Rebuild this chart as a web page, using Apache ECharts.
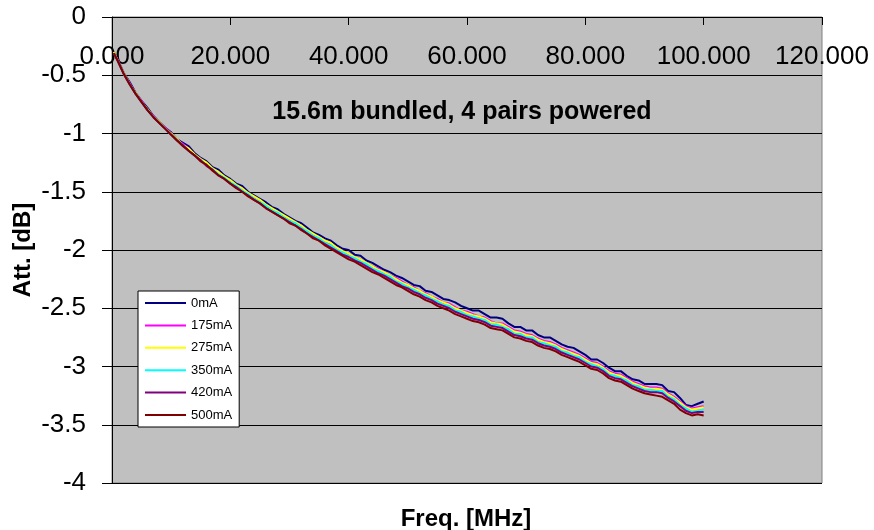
<!DOCTYPE html>
<html>
<head>
<meta charset="utf-8">
<script src="https://cdn.jsdelivr.net/npm/echarts@6/dist/echarts.min.js"></script>
<style>
  html, body { margin: 0; padding: 0; background: #ffffff; }
  #chart { width: 874px; height: 530px; }
</style>
</head>
<body>
<div id="chart"></div>
<script>
// Frequency sweep points [MHz]
const freq = [0.3, 1, 2, 3, 4, 5, 6, 7, 8, 9, 10, 11, 12, 13, 14, 15, 16, 17, 18, 19, 20,
  21, 22, 23, 24, 25, 26, 27, 28, 29, 30, 31, 32, 33, 34, 35, 36, 37, 38, 39, 40,
  41, 42, 43, 44, 45, 46, 47, 48, 49, 50, 51, 52, 53, 54, 55, 56, 57, 58, 59, 60,
  61, 62, 63, 64, 65, 66, 67, 68, 69, 70, 71, 72, 73, 74, 75, 76, 77, 78, 79, 80,
  81, 82, 83, 84, 85, 86, 87, 88, 89, 90, 91, 92, 93, 94, 95, 96, 97, 98, 99, 100];

// Attenuation [dB] per powering current
const att0mA = [-0.30, -0.37, -0.48, -0.56, -0.65, -0.72, -0.78, -0.85, -0.90, -0.95, -0.99,
  -1.05, -1.08, -1.11, -1.17, -1.21, -1.24, -1.29, -1.31, -1.36, -1.39,
  -1.43, -1.45, -1.50, -1.53, -1.56, -1.59, -1.63, -1.65, -1.69, -1.72,
  -1.75, -1.77, -1.81, -1.85, -1.87, -1.90, -1.92, -1.96, -1.99, -2.00,
  -2.04, -2.05, -2.09, -2.11, -2.14, -2.17, -2.19, -2.22, -2.24, -2.27,
  -2.30, -2.31, -2.35, -2.36, -2.39, -2.42, -2.43, -2.45, -2.48, -2.50,
  -2.52, -2.52, -2.55, -2.58, -2.58, -2.59, -2.63, -2.66, -2.66, -2.69,
  -2.69, -2.73, -2.75, -2.75, -2.78, -2.81, -2.83, -2.84, -2.87, -2.90,
  -2.94, -2.94, -2.97, -3.01, -3.04, -3.04, -3.08, -3.11, -3.12, -3.15,
  -3.15, -3.15, -3.16, -3.21, -3.22, -3.27, -3.33, -3.34, -3.32, -3.30];

const att175mA = [-0.31, -0.37, -0.49, -0.57, -0.66, -0.72, -0.80, -0.85, -0.91, -0.95, -1.00,
  -1.06, -1.09, -1.13, -1.19, -1.22, -1.26, -1.31, -1.33, -1.38, -1.41,
  -1.45, -1.47, -1.52, -1.55, -1.58, -1.61, -1.65, -1.67, -1.71, -1.74,
  -1.76, -1.79, -1.83, -1.87, -1.89, -1.92, -1.95, -1.98, -2.01, -2.03,
  -2.06, -2.08, -2.11, -2.14, -2.16, -2.19, -2.22, -2.24, -2.27, -2.30,
  -2.32, -2.35, -2.37, -2.40, -2.42, -2.45, -2.46, -2.49, -2.52, -2.53,
  -2.55, -2.57, -2.58, -2.61, -2.63, -2.63, -2.66, -2.69, -2.70, -2.72,
  -2.73, -2.76, -2.78, -2.79, -2.81, -2.84, -2.86, -2.88, -2.90, -2.93,
  -2.96, -2.97, -3.00, -3.04, -3.06, -3.07, -3.10, -3.13, -3.15, -3.17,
  -3.18, -3.18, -3.19, -3.23, -3.26, -3.30, -3.34, -3.36, -3.35, -3.34];

const att275mA = [-0.30, -0.38, -0.48, -0.58, -0.65, -0.73, -0.79, -0.86, -0.90, -0.96, -1.00,
  -1.05, -1.10, -1.13, -1.18, -1.22, -1.25, -1.30, -1.33, -1.37, -1.40,
  -1.44, -1.47, -1.51, -1.54, -1.57, -1.61, -1.64, -1.67, -1.70, -1.73,
  -1.76, -1.79, -1.83, -1.86, -1.89, -1.92, -1.94, -1.98, -2.01, -2.03,
  -2.06, -2.08, -2.11, -2.14, -2.17, -2.19, -2.22, -2.25, -2.28, -2.30,
  -2.33, -2.35, -2.38, -2.40, -2.43, -2.45, -2.47, -2.50, -2.52, -2.54,
  -2.56, -2.57, -2.59, -2.62, -2.63, -2.64, -2.67, -2.70, -2.71, -2.73,
  -2.74, -2.77, -2.79, -2.80, -2.82, -2.85, -2.87, -2.89, -2.91, -2.94,
  -2.97, -2.98, -3.01, -3.05, -3.07, -3.08, -3.11, -3.14, -3.16, -3.18,
  -3.19, -3.19, -3.20, -3.24, -3.27, -3.31, -3.35, -3.37, -3.36, -3.35];

const att350mA = [-0.31, -0.38, -0.49, -0.58, -0.66, -0.73, -0.80, -0.86, -0.91, -0.96, -1.01,
  -1.06, -1.10, -1.15, -1.19, -1.23, -1.27, -1.31, -1.35, -1.38, -1.42,
  -1.45, -1.49, -1.52, -1.56, -1.59, -1.62, -1.66, -1.68, -1.72, -1.75,
  -1.77, -1.81, -1.84, -1.88, -1.90, -1.94, -1.96, -2.00, -2.02, -2.05,
  -2.07, -2.10, -2.12, -2.16, -2.18, -2.21, -2.23, -2.27, -2.29, -2.32,
  -2.34, -2.37, -2.39, -2.42, -2.44, -2.47, -2.48, -2.52, -2.53, -2.56,
  -2.57, -2.59, -2.60, -2.64, -2.64, -2.66, -2.68, -2.72, -2.72, -2.75,
  -2.75, -2.79, -2.80, -2.82, -2.83, -2.87, -2.88, -2.91, -2.92, -2.96,
  -2.98, -3.00, -3.02, -3.07, -3.08, -3.10, -3.12, -3.16, -3.17, -3.20,
  -3.20, -3.21, -3.21, -3.26, -3.28, -3.33, -3.36, -3.39, -3.38, -3.37];

const att420mA = [-0.31, -0.38, -0.49, -0.58, -0.66, -0.73, -0.80, -0.86, -0.91, -0.96, -1.01,
  -1.06, -1.10, -1.15, -1.19, -1.23, -1.28, -1.31, -1.36, -1.39, -1.43,
  -1.46, -1.50, -1.53, -1.57, -1.60, -1.64, -1.67, -1.70, -1.73, -1.76,
  -1.79, -1.82, -1.86, -1.89, -1.92, -1.95, -1.98, -2.01, -2.04, -2.06,
  -2.09, -2.11, -2.14, -2.17, -2.20, -2.22, -2.25, -2.28, -2.31, -2.33,
  -2.36, -2.38, -2.41, -2.43, -2.46, -2.48, -2.50, -2.53, -2.55, -2.57,
  -2.59, -2.60, -2.62, -2.65, -2.66, -2.67, -2.70, -2.73, -2.74, -2.76,
  -2.77, -2.80, -2.82, -2.83, -2.85, -2.88, -2.90, -2.92, -2.94, -2.97,
  -3.00, -3.01, -3.04, -3.08, -3.10, -3.11, -3.14, -3.17, -3.19, -3.21,
  -3.22, -3.22, -3.23, -3.27, -3.30, -3.34, -3.38, -3.40, -3.39, -3.39];

const att500mA = [-0.31, -0.38, -0.49, -0.58, -0.66, -0.73, -0.80, -0.86, -0.91, -0.96, -1.01,
  -1.06, -1.11, -1.15, -1.19, -1.24, -1.27, -1.32, -1.36, -1.39, -1.43,
  -1.47, -1.50, -1.54, -1.57, -1.60, -1.64, -1.67, -1.70, -1.73, -1.77,
  -1.79, -1.83, -1.86, -1.90, -1.92, -1.96, -1.99, -2.02, -2.05, -2.08,
  -2.10, -2.13, -2.16, -2.19, -2.21, -2.24, -2.27, -2.30, -2.32, -2.35,
  -2.38, -2.40, -2.43, -2.45, -2.48, -2.50, -2.52, -2.55, -2.57, -2.59,
  -2.61, -2.62, -2.64, -2.67, -2.68, -2.69, -2.72, -2.75, -2.76, -2.78,
  -2.79, -2.82, -2.84, -2.85, -2.87, -2.90, -2.92, -2.94, -2.96, -2.99,
  -3.02, -3.03, -3.06, -3.10, -3.12, -3.13, -3.16, -3.19, -3.21, -3.23,
  -3.24, -3.25, -3.26, -3.29, -3.32, -3.37, -3.40, -3.42, -3.41, -3.42];

const seriesNames = ['0mA', '175mA', '275mA', '350mA', '420mA', '500mA'];
const seriesValues = [att0mA, att175mA, att275mA, att350mA, att420mA, att500mA];
const seriesColors = ['#000080', '#FF00FF', '#FFFF00', '#00FFFF', '#800080', '#800000'];

const xTicks = [0, 20, 40, 60, 80, 100, 120];
const yTicks = [0, -0.5, -1, -1.5, -2, -2.5, -3, -3.5, -4];

const chartTitle = '15.6m bundled, 4 pairs powered';
const xName = 'Freq. [MHz]';
const yName = 'Att. [dB]';

const FONT = '"Liberation Sans", Arial, Helvetica, sans-serif';

// Legend key: a thin horizontal bar centred in the key box
// (zero-area end caps keep the full box height for scaling).
const LINE_KEY = 'path://M0,0L41,0L41,0Z M0,6L41,6L41,8L0,8Z M0,14L41,14L41,14Z';

const chart = echarts.init(document.getElementById('chart'), null, { renderer: 'canvas' });

const series = seriesNames.map((name, k) => ({
  name: name,
  type: 'line',
  symbol: 'none',
  animation: false,
  lineStyle: { color: seriesColors[k], width: 2 },
  itemStyle: { color: seriesColors[k] },
  data: freq.map((f, i) => [f, seriesValues[k][i]])
}));

chart.setOption({
  animation: false,
  backgroundColor: '#ffffff',
  grid: {
    left: 112, top: 17, right: 52, bottom: 47,
    show: true,
    backgroundColor: '#C0C0C0',
    borderColor: '#808080',
    borderWidth: 1
  },
  xAxis: {
    type: 'value',
    min: xTicks[0],
    max: xTicks[xTicks.length - 1],
    interval: xTicks[1] - xTicks[0],
    position: 'top',
    axisLine: { show: true, lineStyle: { color: '#000000', width: 1 } },
    axisTick: { show: true, inside: true, length: 8, lineStyle: { color: '#000000' } },
    axisLabel: {
      inside: true,
      margin: 27,
      color: '#000000',
      fontFamily: FONT,
      fontSize: 26,
      formatter: v => v.toFixed(3)
    },
    splitLine: { show: false }
  },
  yAxis: {
    type: 'value',
    min: yTicks[yTicks.length - 1],
    max: yTicks[0],
    interval: 0.5,
    axisLine: { show: true, onZero: false, lineStyle: { color: '#000000', width: 1 } },
    axisTick: { show: true, inside: false, length: 10, lineStyle: { color: '#000000' } },
    axisLabel: {
      margin: 26,
      color: '#000000',
      fontFamily: FONT,
      fontSize: 26
    },
    splitLine: { show: true, lineStyle: { color: '#000000', width: 1 } }
  },
  legend: {
    orient: 'vertical',
    left: 138,
    top: 291,
    padding: [5, 7, 5, 7],
    icon: LINE_KEY,
    itemWidth: 41,
    itemHeight: 14,
    itemGap: 8.4,
    itemStyle: { borderWidth: 0 },
    backgroundColor: '#ffffff',
    borderColor: '#000000',
    borderWidth: 1,
    borderRadius: 0,
    textStyle: { color: '#000000', fontFamily: FONT, fontSize: 13 },
    data: seriesNames
  },
  graphic: [
    {
      type: 'text',
      x: 462, y: 112,
      style: {
        text: chartTitle,
        fill: '#000000',
        font: 'bold 25px ' + FONT,
        textAlign: 'center',
        textVerticalAlign: 'middle'
      }
    },
    {
      type: 'text',
      x: 466, y: 519,
      style: {
        text: xName,
        fill: '#000000',
        font: 'bold 24px ' + FONT,
        textAlign: 'center',
        textVerticalAlign: 'middle'
      }
    },
    {
      type: 'text',
      x: 23, y: 250,
      rotation: Math.PI / 2,
      style: {
        text: yName,
        fill: '#000000',
        font: 'bold 24px ' + FONT,
        textAlign: 'center',
        textVerticalAlign: 'middle'
      }
    }
  ],
  series: series
});
</script>
</body>
</html>
